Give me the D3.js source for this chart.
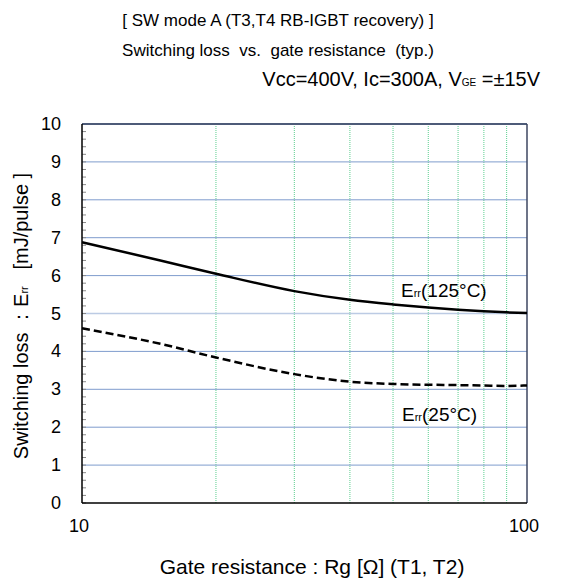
<!DOCTYPE html>
<html>
<head>
<meta charset="utf-8">
<script src="https://cdn.jsdelivr.net/npm/d3@7"></script>
<style>
	body { margin: 0; background: #fff; }
	svg text { font-family: "Liberation Sans", Arial, sans-serif; fill: #000; white-space: pre; }
</style>
</head>
<body>
<div id="chart"></div>
<script>
// values
const rgValues = [10, 15, 20, 30, 40, 50, 60, 70, 80, 90, 100];
const err125 = [6.88, 6.40, 6.05, 5.59, 5.36, 5.24, 5.16, 5.10, 5.06, 5.03, 5.01];
const err25 = [4.61, 4.20, 3.84, 3.40, 3.20, 3.14, 3.12, 3.11, 3.10, 3.09, 3.10];
const yTicks = [0, 1, 2, 3, 4, 5, 6, 7, 8, 9, 10];
const xTickLabels = [10, 100];
const xGrid = [20, 30, 40, 50, 60, 70, 80, 90];

const width = 563, height = 580;
const margin = { top: 124, right: 36, bottom: 77, left: 82 };

const svg = d3.select('#chart').append('svg')
	.attr('width', width)
	.attr('height', height);

const x = d3.scaleLog().domain([10, 100]).range([margin.left, width - margin.right]);
const y = d3.scaleLinear().domain([0, 10]).range([height - margin.bottom, margin.top]);

// grid
svg.append('g').selectAll('line')
	.data(xGrid)
	.enter().append('line')
	.attr('x1', d => x(d)).attr('x2', d => x(d))
	.attr('y1', y(0)).attr('y2', y(10))
	.attr('stroke', '#5ccf8f')
	.attr('stroke-width', 1)
	.attr('stroke-dasharray', '1,1');

svg.append('g').selectAll('line')
	.data(yTicks.filter(d => d > 0 && d < 10))
	.enter().append('line')
	.attr('x1', x(10)).attr('x2', x(100))
	.attr('y1', d => y(d)).attr('y2', d => y(d))
	.attr('stroke', d => d === 5 ? '#bccbe4' : '#7f9ccd')
	.attr('stroke-width', d => d === 5 ? 1.5 : 1);

// minor ticks on left axis
const minor = d3.range(0, 10.001, 0.2);
svg.append('g').selectAll('line')
	.data(minor)
	.enter().append('line')
	.attr('x1', x(10)).attr('x2', x(10) + 4)
	.attr('y1', d => y(d)).attr('y2', d => y(d))
	.attr('stroke', '#888')
	.attr('stroke-width', 1);

// frame
svg.append('line').attr('x1', x(10)).attr('x2', x(100)).attr('y1', y(10)).attr('y2', y(10))
	.attr('stroke', '#4d5b78').attr('stroke-width', 2);
svg.append('line').attr('x1', x(100)).attr('x2', x(100)).attr('y1', y(10)).attr('y2', y(0))
	.attr('stroke', '#3d4660').attr('stroke-width', 1.5);
svg.append('line').attr('x1', x(10)).attr('x2', x(10)).attr('y1', y(10)).attr('y2', y(0))
	.attr('stroke', '#000').attr('stroke-width', 1.5);
svg.append('line').attr('x1', x(10)).attr('x2', x(100)).attr('y1', y(0)).attr('y2', y(0))
	.attr('stroke', '#000').attr('stroke-width', 1.5);

// curves
const line = d3.line()
	.x(d => x(d[0]))
	.y(d => y(d[1]))
	.curve(d3.curveMonotoneX);

svg.append('path')
	.datum(rgValues.map((r, i) => [r, err125[i]]))
	.attr('d', line)
	.attr('fill', 'none')
	.attr('stroke', '#000')
	.attr('stroke-width', 2.5);

svg.append('path')
	.datum(rgValues.map((r, i) => [r, err25[i]]))
	.attr('d', line)
	.attr('fill', 'none')
	.attr('stroke', '#000')
	.attr('stroke-width', 2.5)
	.attr('stroke-dasharray', '8,4');

// tick labels
svg.append('g').selectAll('text')
	.data(yTicks)
	.enter().append('text')
	.attr('x', 61)
	.attr('y', d => y(d) + 6)
	.attr('text-anchor', 'end')
	.attr('font-size', 18)
	.text(d => d);

svg.append('g').selectAll('text')
	.data(xTickLabels)
	.enter().append('text')
	.attr('x', d => x(d) - 3)
	.attr('y', 532)
	.attr('text-anchor', 'middle')
	.attr('font-size', 18)
	.text(d => d);

// curve labels
function errLabel(px, py, temp) {
	const t = svg.append('text').attr('x', px).attr('y', py).attr('font-size', 19);
	t.append('tspan').text('E');
	t.append('tspan').attr('font-size', 11).text('rr');
	t.append('tspan').text('(' + temp + '°C)');
}
errLabel(401, 297, 125);
errLabel(402, 421, 25);

// titles
svg.append('text').attr('x', 278).attr('y', 26).attr('text-anchor', 'middle')
	.attr('font-size', 17).text('[ SW mode A (T3,T4 RB-IGBT recovery) ]');
svg.append('text').attr('x', 278).attr('y', 56).attr('text-anchor', 'middle')
	.attr('font-size', 17).text('Switching loss  vs.  gate resistance  (typ.)');
const cond = svg.append('text').attr('x', 540).attr('y', 86).attr('text-anchor', 'end')
	.attr('font-size', 20);
cond.append('tspan').text('Vcc=400V, Ic=300A, V');
cond.append('tspan').attr('font-size', 10).text('GE');
cond.append('tspan').text(' =±15V');

svg.append('text').attr('x', 312).attr('y', 574).attr('text-anchor', 'middle')
	.attr('font-size', 21).text('Gate resistance : Rg [Ω] (T1, T2)');

const yt = svg.append('text')
	.attr('transform', 'translate(28,' + 316 + ') rotate(-90)')
	.attr('text-anchor', 'middle')
	.attr('font-size', 20);
yt.append('tspan').text('Switching loss ：E');
yt.append('tspan').attr('font-size', 11).text('rr');
yt.append('tspan').text('   [mJ/pulse ]');
</script>
</body>
</html>
